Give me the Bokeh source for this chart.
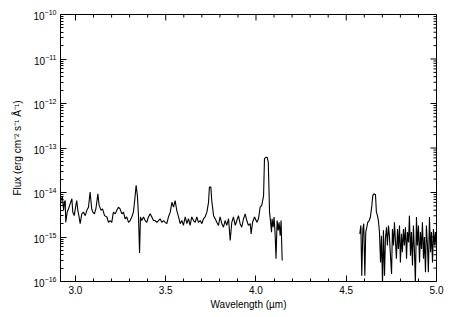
import numpy as np
from bokeh.plotting import figure
from bokeh.models import FixedTicker, Range1d, AllLabels, Label
from bokeh.embed import file_html
from bokeh.resources import INLINE

# Segment 1 (short-wavelength part of spectrum): wavelength (um), log10 flux
wave_a = [2.915, 2.921, 2.928, 2.934, 2.939, 2.943, 2.946, 2.954, 2.961, 2.970,
          2.980, 2.985, 2.993, 3.002, 3.007, 3.013, 3.020, 3.026, 3.035, 3.044,
          3.054, 3.063, 3.072, 3.081, 3.090, 3.096, 3.105, 3.113, 3.124, 3.131,
          3.142, 3.150, 3.161, 3.174, 3.183, 3.192, 3.201, 3.210, 3.220, 3.229,
          3.238, 3.247, 3.257, 3.266, 3.275, 3.284, 3.294, 3.303, 3.312, 3.321,
          3.327, 3.336, 3.343, 3.349, 3.355, 3.360, 3.367, 3.377, 3.386, 3.395,
          3.404, 3.414, 3.423, 3.432, 3.441, 3.451, 3.460, 3.469, 3.478, 3.488,
          3.497, 3.506, 3.515, 3.525, 3.534, 3.543, 3.552, 3.561, 3.571, 3.580,
          3.589, 3.598, 3.608, 3.617, 3.626, 3.635, 3.644, 3.654, 3.663, 3.672,
          3.681, 3.691, 3.700, 3.709, 3.718, 3.728, 3.737, 3.742, 3.750, 3.755,
          3.765, 3.774, 3.783, 3.792, 3.801, 3.811, 3.820, 3.829, 3.838, 3.848,
          3.857, 3.866, 3.875, 3.885, 3.894, 3.903, 3.912, 3.921, 3.931, 3.940,
          3.949, 3.958, 3.968, 3.973, 3.981, 3.992, 4.005, 4.014, 4.023, 4.032,
          4.042, 4.047, 4.055, 4.062, 4.068, 4.071, 4.075, 4.080, 4.086, 4.089,
          4.095, 4.100, 4.106, 4.111, 4.117, 4.123, 4.128, 4.134, 4.139, 4.145]
logf_a = [-14.33, -14.14, -14.10, -14.40, -14.22, -14.18, -14.67, -14.44, -14.37, -14.26,
          -14.14, -14.44, -14.52, -14.29, -14.18, -14.40, -14.55, -14.70, -14.48, -14.44,
          -14.52, -14.40, -14.33, -13.99, -14.37, -14.44, -14.48, -14.37, -14.03, -14.29,
          -14.40, -14.37, -14.52, -14.55, -14.67, -14.63, -14.67, -14.44, -14.48, -14.40,
          -14.33, -14.37, -14.48, -14.44, -14.59, -14.55, -14.67, -14.63, -14.55, -14.44,
          -14.22, -13.84, -14.07, -14.52, -15.36, -14.55, -14.63, -14.55, -14.63, -14.67,
          -14.55, -14.48, -14.55, -14.63, -14.63, -14.67, -14.63, -14.59, -14.67, -14.63,
          -14.67, -14.70, -14.55, -14.44, -14.22, -14.33, -14.18, -14.40, -14.55, -14.70,
          -14.63, -14.74, -14.55, -14.70, -14.59, -14.74, -14.55, -14.63, -14.67, -14.55,
          -14.67, -14.63, -14.70, -14.59, -14.55, -14.44, -14.22, -13.88, -13.88, -14.18,
          -14.52, -14.59, -14.67, -14.74, -14.55, -14.70, -14.78, -14.63, -14.74, -14.59,
          -15.08, -14.67, -14.55, -14.74, -14.63, -14.52, -14.70, -14.78, -14.59, -14.48,
          -14.63, -14.74, -14.70, -14.93, -14.67, -14.55, -14.67, -14.59, -14.33, -14.29,
          -14.07, -13.24, -13.21, -13.21, -13.32, -13.77, -14.44, -14.63, -14.89, -14.59,
          -14.78, -14.55, -14.93, -15.49, -14.63, -14.85, -14.67, -14.97, -14.63, -15.53]

# Segment 2 (long-wavelength part of spectrum)
wave_b = [4.575, 4.581, 4.586, 4.592, 4.597, 4.603, 4.608, 4.614, 4.619, 4.627,
          4.634, 4.642, 4.647, 4.654, 4.662, 4.667, 4.673, 4.678, 4.684, 4.690,
          4.695, 4.701, 4.706, 4.712, 4.717, 4.723, 4.728, 4.734, 4.739, 4.745,
          4.751, 4.756, 4.762, 4.767, 4.773, 4.778, 4.784, 4.789, 4.795, 4.800,
          4.806, 4.811, 4.817, 4.822, 4.828, 4.834, 4.839, 4.845, 4.850, 4.856,
          4.861, 4.867, 4.872, 4.878, 4.883, 4.889, 4.894, 4.900, 4.906, 4.911,
          4.917, 4.922, 4.928, 4.933, 4.939, 4.944, 4.950, 4.955, 4.961, 4.967,
          4.972, 4.978, 4.983, 4.989, 4.994, 5.000]
logf_b = [-14.93, -14.74, -15.87, -14.82, -14.70, -15.87, -14.89, -14.78, -14.67, -14.63,
          -14.55, -14.29, -14.07, -14.03, -14.05, -14.44, -14.52, -14.63, -14.89, -15.57,
          -14.97, -16.05, -14.85, -15.87, -15.04, -14.78, -15.19, -14.74, -14.97, -15.42,
          -15.83, -14.82, -15.19, -14.67, -15.12, -15.49, -14.82, -15.27, -14.74, -15.57,
          -14.93, -15.34, -14.82, -15.19, -14.78, -15.49, -14.89, -15.12, -14.52, -15.42,
          -14.89, -15.64, -14.74, -15.34, -16.05, -14.55, -15.19, -14.74, -15.57, -14.89,
          -15.27, -14.67, -15.49, -15.00, -15.79, -14.74, -15.19, -15.79, -14.55, -15.34,
          -14.89, -15.57, -14.82, -15.19, -14.89, -15.27]

x_ticks = [3.0, 3.5, 4.0, 4.5, 5.0]
x_labels = ["3.0", "3.5", "4.0", "4.5", "5.0"]
y_decades = [-16, -15, -14, -13, -12, -11, -10]

flux_a = [10.0 ** v for v in logf_a]
flux_b = [10.0 ** v for v in logf_b]

X0, X1 = 2.917, 5.0
Y0, Y1 = 1e-16, 1e-10
FONT = "Liberation Sans"

p = figure(width=462, height=317, output_backend="svg", toolbar_location=None,
           y_axis_type="log",
           x_range=Range1d(X0, X1), y_range=Range1d(Y0, Y1),
           min_border_left=60, min_border_right=26, min_border_top=14,
           min_border_bottom=36)
p.background_fill_color = "white"
p.border_fill_color = "white"
p.outline_line_color = "black"
p.outline_line_width = 1
p.grid.visible = False

p.line(wave_a, flux_a, line_color="black", line_width=1.1)
p.line(wave_b, flux_b, line_color="black", line_width=1.1)

major_y = [10.0 ** d for d in y_decades]
minor_y = [m * 10.0 ** d for d in y_decades[:-1] for m in range(2, 10)]
minor_x = [round(2.9 + 0.1 * i, 2) for i in range(22)]
minor_x = [v for v in minor_x if v not in x_ticks and X0 <= v <= X1]

# mirrored ticks on top and right edges (screen-length rays from the frame edge)
p.ray(x=x_ticks, y=[Y1] * len(x_ticks), length=6, length_units="screen",
      angle=-90, angle_units="deg", line_color="black", line_width=1)
p.ray(x=minor_x, y=[Y1] * len(minor_x), length=3, length_units="screen",
      angle=-90, angle_units="deg", line_color="black", line_width=1)
p.ray(x=[X1] * len(major_y), y=major_y, length=6, length_units="screen",
      angle=180, angle_units="deg", line_color="black", line_width=1)
p.ray(x=[X1] * len(minor_y), y=minor_y, length=3, length_units="screen",
      angle=180, angle_units="deg", line_color="black", line_width=1)

def style(ax):
    ax.axis_line_color = "black"
    ax.major_tick_line_color = "black"
    ax.minor_tick_line_color = "black"
    ax.major_tick_in = 6
    ax.major_tick_out = 0
    ax.minor_tick_in = 3
    ax.minor_tick_out = 0
    ax.major_label_text_font = FONT
    ax.major_label_text_font_size = "10px"
    ax.major_label_text_color = "black"
    ax.axis_label_text_font = FONT
    ax.axis_label_text_font_size = "10px"
    ax.axis_label_text_font_style = "normal"
    ax.axis_label_text_color = "black"
    ax.major_label_policy = AllLabels()

xa = p.xaxis[0]
xa.ticker = FixedTicker(ticks=x_ticks, minor_ticks=minor_x)
xa.major_label_overrides = {t: s for t, s in zip(x_ticks, x_labels)}
xa.axis_label = "Wavelength (µm)"
style(xa)
xa.major_label_standoff = 4
xa.axis_label_standoff = 2

ya = p.yaxis[0]
ya.ticker = FixedTicker(ticks=major_y, minor_ticks=minor_y)
ya.axis_label = "Flux (erg cm⁻² s⁻¹ Å⁻¹)"
style(ya)
ya.major_label_standoff = 4
ya.axis_label_standoff = 8

# first x tick label near the corner: draw it again as an overlay annotation
p.add_layout(Label(x=x_ticks[0], y=Y0, x_units="data", y_units="data",
                   text=x_labels[0], y_offset=-4, text_align="center",
                   text_baseline="top", text_font=FONT, text_font_size="10px",
                   text_color="black", level="overlay"))

open("out.html", "w").write(file_html(p, INLINE))
